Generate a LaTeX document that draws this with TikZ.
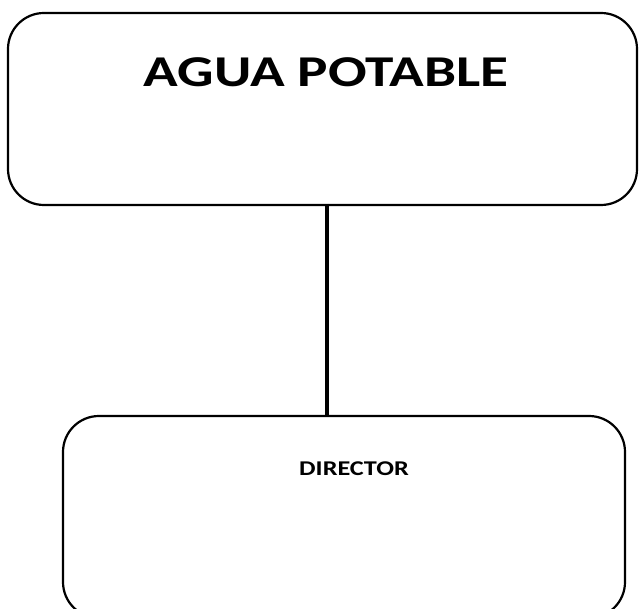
\documentclass[tikz,border=0pt]{standalone}
\usepackage{fontspec}
\setmainfont{Carlito}
\begin{document}
\begin{tikzpicture}[x=1pt,y=1pt,
  boxstyle/.style={draw=black, line width=2.2pt, rounded corners=36pt},
  linkstyle/.style={draw=black, line width=4pt}]
\useasboundingbox (0,0) rectangle (639,608);
\begin{scope}
\clip (0,0) rectangle (639,608);
\draw[boxstyle] (8,595) rectangle (637,403);
\draw[boxstyle] (63,192) rectangle (625,-10);
\end{scope}
\node[font=\bfseries\fontsize{44}{50}\selectfont, anchor=base] (title) at (326,521) {\scalebox{1.3}[1]{AGUA POTABLE}};
\node[font=\bfseries\fontsize{21}{25}\selectfont, anchor=base] (dir) at (354,133) {\scalebox{1.25}[1]{DIRECTOR}};
\coordinate (topbot) at (327,404);
\coordinate (bottop) at (327,191);
\draw[linkstyle] (topbot) -- (bottop);
\end{tikzpicture}
\end{document}
